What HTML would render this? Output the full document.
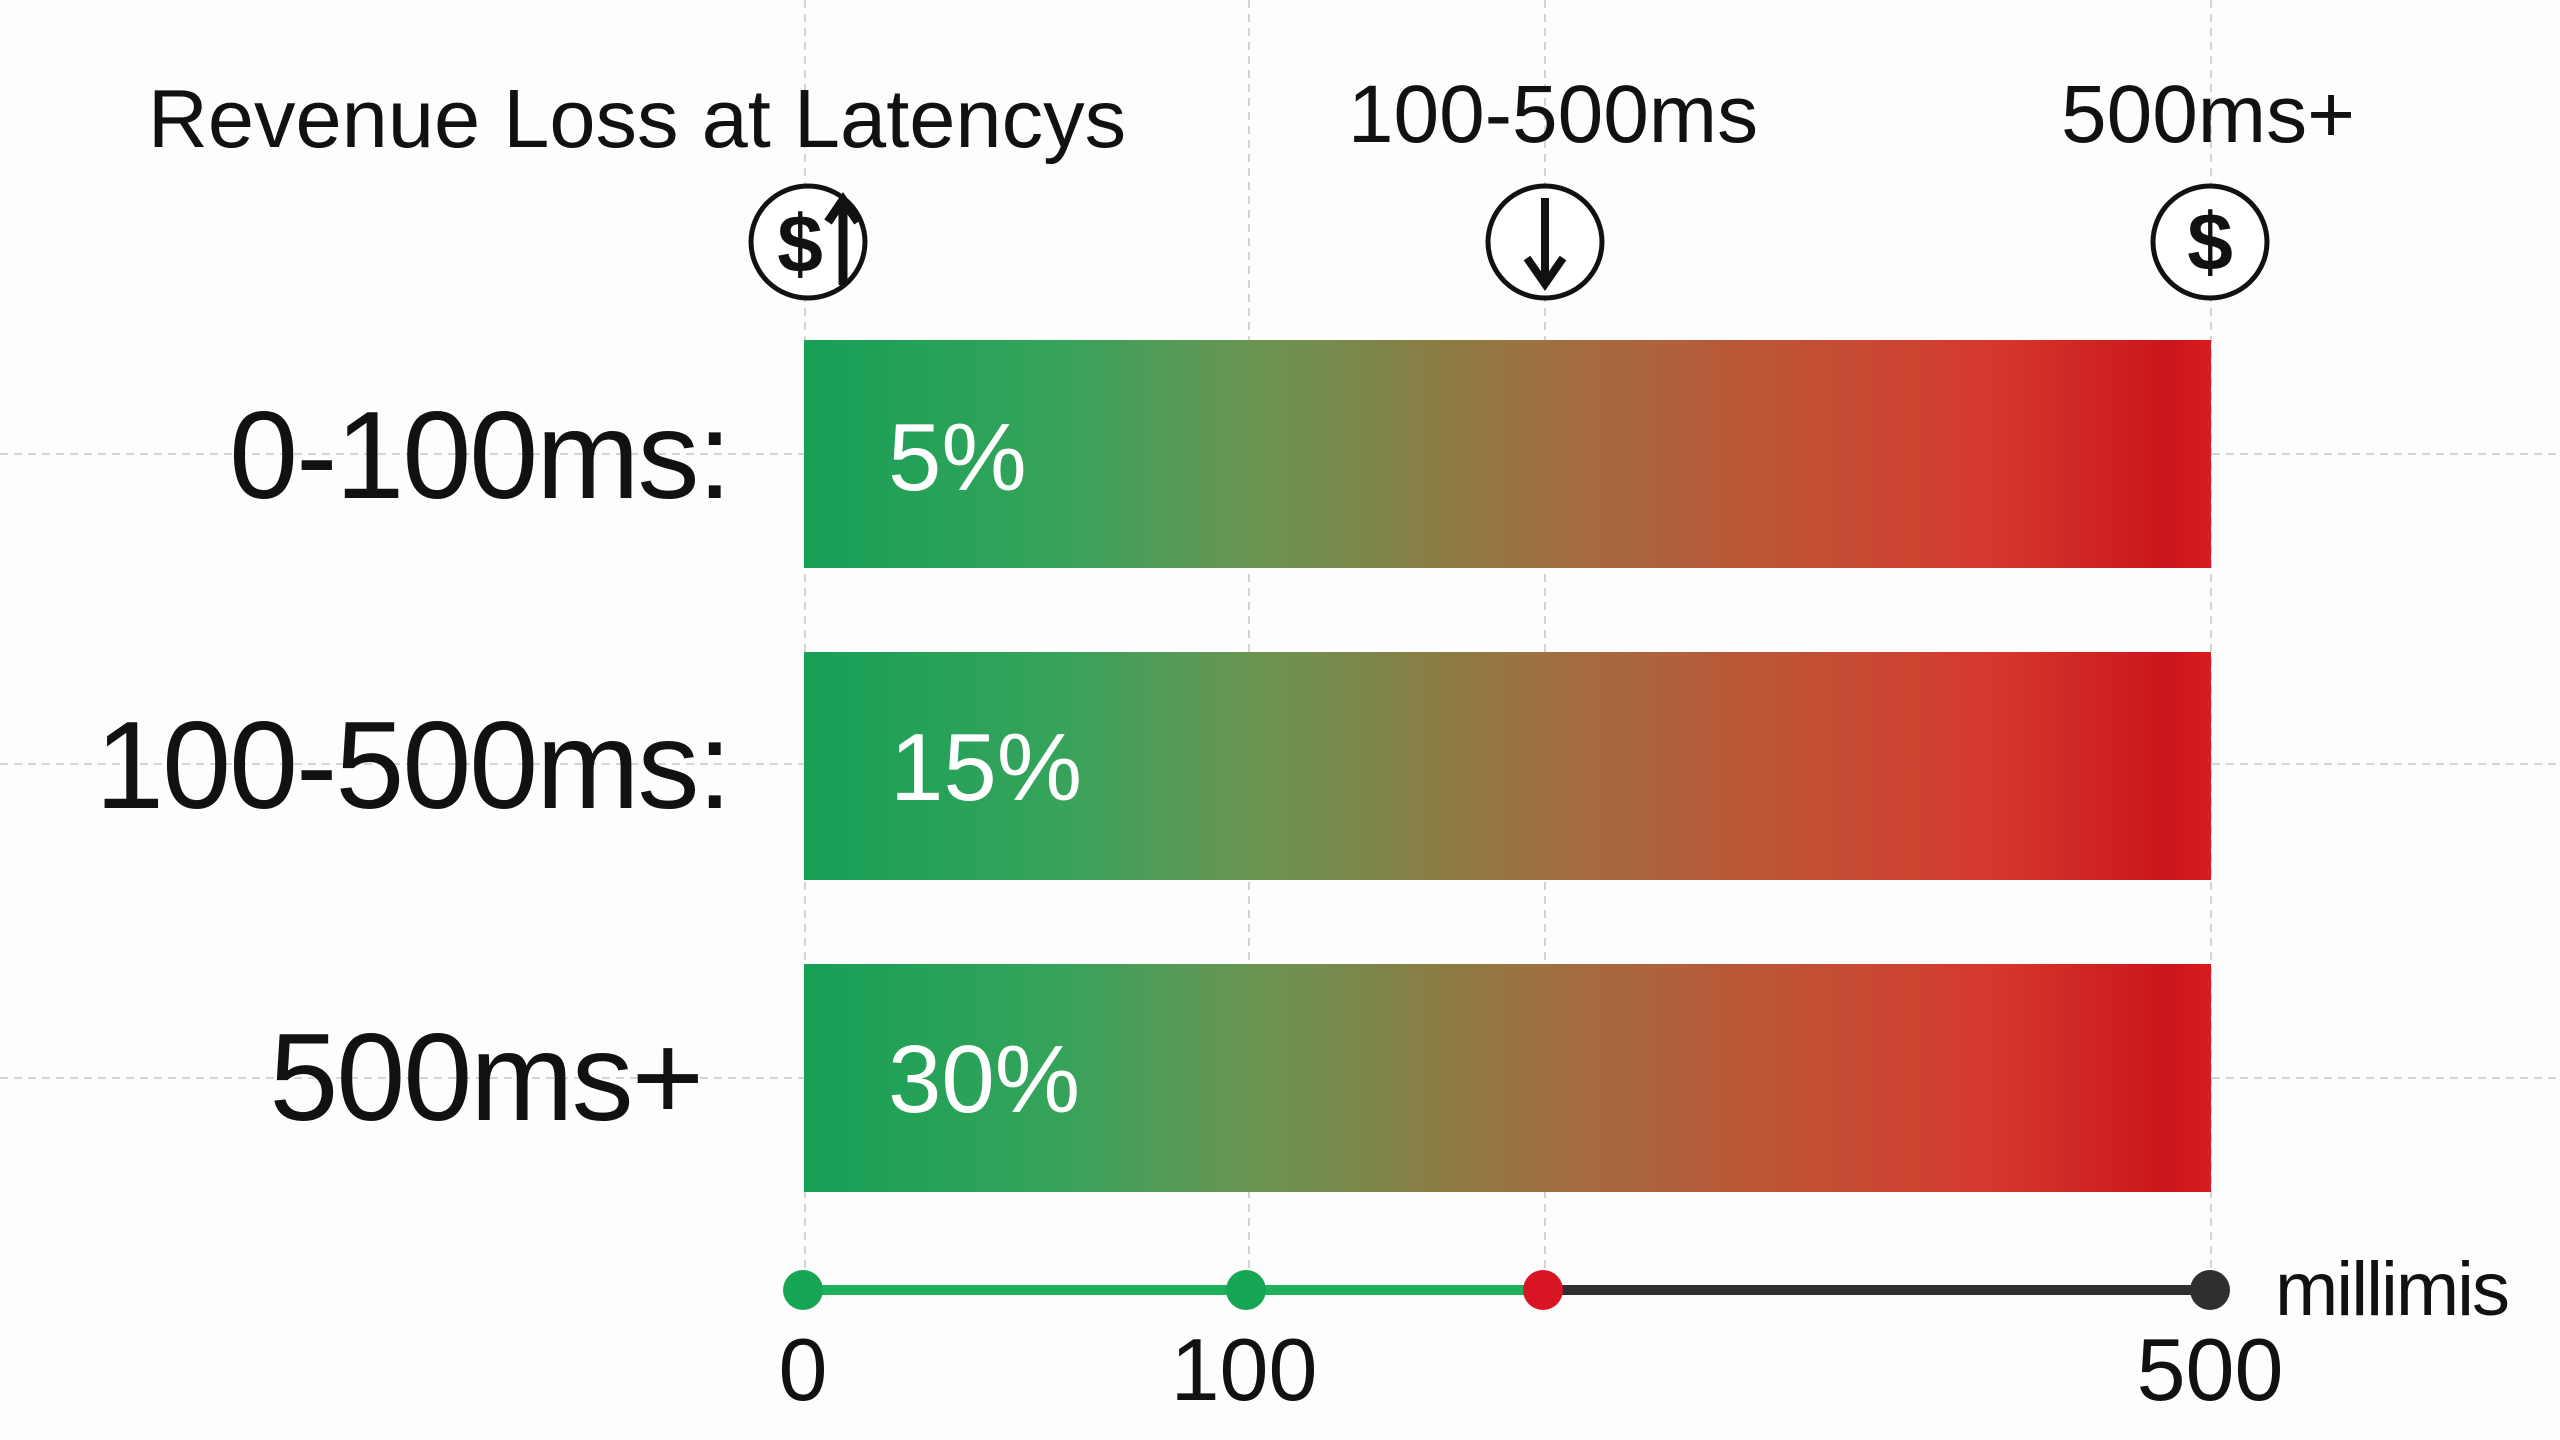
<!DOCTYPE html>
<html><head><meta charset="utf-8"><style>
html,body{margin:0;padding:0;background:#fdfdfd;}
svg{display:block;}
text{font-family:"Liberation Sans",sans-serif;}
</style></head><body>
<svg width="2560" height="1440" viewBox="0 0 2560 1440" xmlns="http://www.w3.org/2000/svg">
<defs>
<linearGradient id="g" x1="0" y1="0" x2="1" y2="0">
<stop offset="0" stop-color="#17a056"/>
<stop offset="0.18" stop-color="#36a35b"/>
<stop offset="0.32" stop-color="#6a9452"/>
<stop offset="0.45" stop-color="#8a7d44"/>
<stop offset="0.56" stop-color="#a56a3e"/>
<stop offset="0.68" stop-color="#bc5637"/>
<stop offset="0.84" stop-color="#d5392d"/>
<stop offset="0.97" stop-color="#cb151b"/>
<stop offset="1" stop-color="#d81d20"/>
</linearGradient>
</defs>
<rect width="2560" height="1440" fill="#fdfdfd"/>
<g stroke="#d4d4d4" stroke-width="2" stroke-dasharray="8,6">
<line x1="805" y1="0" x2="805" y2="1290"/>
<line x1="1249" y1="0" x2="1249" y2="1290"/>
<line x1="1545" y1="0" x2="1545" y2="1290"/>
<line x1="2211" y1="0" x2="2211" y2="1290"/>
<line x1="0" y1="454" x2="2560" y2="454"/>
<line x1="0" y1="764" x2="2560" y2="764"/>
<line x1="0" y1="1078" x2="2560" y2="1078"/>
</g>
<text x="637" y="147" font-size="83" text-anchor="middle" fill="#111">Revenue Loss at Latencys</text>
<text x="1553" y="142" font-size="82" text-anchor="middle" fill="#111">100-500ms</text>
<text x="2208" y="142" font-size="82" text-anchor="middle" fill="#111">500ms+</text>
<g fill="#fff" stroke="#111" stroke-width="5">
<ellipse cx="808" cy="242" rx="57" ry="56"/>
<ellipse cx="1545" cy="242" rx="57" ry="56"/>
<ellipse cx="2210" cy="242" rx="57" ry="56"/>
</g>
<text x="800" y="272" font-size="82" font-weight="bold" text-anchor="middle" fill="#111">$</text>
<path d="M843 285 L843 205 M828 222 L843 200 L858 222" stroke="#111" stroke-width="9" fill="none"/>
<path d="M1545 198 L1545 280 M1527 258 L1545 284 L1563 258" stroke="#111" stroke-width="8" fill="none"/>
<text x="2210" y="270" font-size="82" font-weight="bold" text-anchor="middle" fill="#111">$</text>
<rect x="804" y="340" width="1407" height="228" fill="url(#g)"/>
<rect x="804" y="652" width="1407" height="228" fill="url(#g)"/>
<rect x="804" y="964" width="1407" height="228" fill="url(#g)"/>
<g font-size="96" fill="#fff">
<text x="888" y="490">5%</text>
<text x="890" y="800">15%</text>
<text x="888" y="1112">30%</text>
</g>
<g font-size="124" fill="#111" text-anchor="end" letter-spacing="-2">
<text x="730" y="498">0-100ms:</text>
<text x="730" y="808">100-500ms:</text>
<text x="702" y="1120">500ms+</text>
</g>
<line x1="803" y1="1290" x2="1543" y2="1290" stroke="#1fb05e" stroke-width="10"/>
<line x1="1543" y1="1290" x2="2210" y2="1290" stroke="#2d2f31" stroke-width="10"/>
<circle cx="803" cy="1290" r="20" fill="#16a656"/>
<circle cx="1246" cy="1290" r="20" fill="#16a656"/>
<circle cx="1543" cy="1290" r="20" fill="#d81525"/>
<circle cx="2210" cy="1290" r="20" fill="#2d2f31"/>
<g font-size="88" fill="#111" text-anchor="middle">
<text x="803" y="1400">0</text>
<text x="1244" y="1400">100</text>
<text x="2210" y="1400">500</text>
</g>
<text x="2275" y="1315" font-size="76" fill="#111" letter-spacing="-2">millimis</text>
</svg>
</body></html>
